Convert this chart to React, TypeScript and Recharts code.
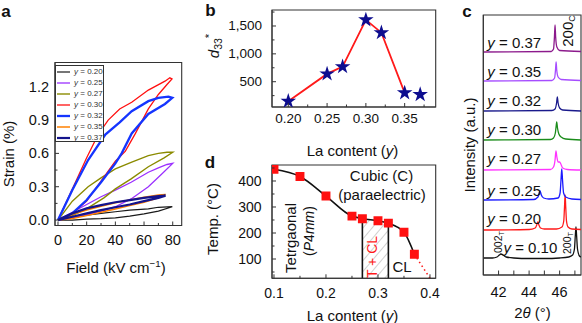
import React from 'react';
import {
  LineChart,
  Line,
  XAxis,
  YAxis,
  ComposedChart,
  Scatter,
  ReferenceArea,
  ReferenceLine,
  Area,
  ZAxis,
} from 'recharts';

const FONT = '"Liberation Sans", Arial, Helvetica, sans-serif';
const AX = '#333';

// ---------------- Panel a: strain loops ----------------
const fieldMajor = [0, 20, 40, 60, 80];
const fieldAll = [0, 10, 20, 30, 40, 50, 60, 70, 80];
const strainMajor = [0, 0.3, 0.6, 0.9, 1.2];
const strainAll = [0, 0.15, 0.3, 0.45, 0.6, 0.75, 0.9, 1.05, 1.2, 1.35];

const loopLabels = ['0.20', '0.25', '0.27', '0.30', '0.32', '0.35', '0.37'];
const loopColors = ['#1a1a1a', '#9b30ff', '#8b8b00', '#ff1010', '#1535ff', '#ff8000', '#14148c'];
const loopWidths = [1.2, 1.3, 1.4, 1.3, 2.3, 1.5, 2.2];

const loop020 = [[0, 0], [10, 0.0], [20, 0.008], [30, 0.012], [40, 0.02], [50, 0.035], [60, 0.055], [70, 0.08], [79.7, 0.12], [70, 0.115], [63, 0.1], [50, 0.09], [40, 0.075], [30, 0.06], [20, 0.045], [10, 0.025], [0, 0]];
const loop025 = [[0, 0], [10, 0.02], [20, 0.05], [30, 0.08], [40, 0.12], [51, 0.19], [63, 0.3], [72, 0.41], [80, 0.51], [76, 0.5], [70, 0.47], [63, 0.43], [51, 0.34], [40, 0.27], [30, 0.21], [20, 0.14], [10, 0.07], [0, 0]];
const loop027 = [[0, 0], [10, 0.04], [21, 0.11], [32, 0.2], [40, 0.28], [51, 0.37], [63, 0.48], [74, 0.56], [80, 0.61], [76, 0.61], [70, 0.6], [63, 0.58], [51, 0.52], [40, 0.46], [30, 0.38], [21, 0.3], [10, 0.17], [0, 0]];
const loop030 = [[0, 0], [10, 0.06], [20, 0.17], [30, 0.35], [40, 0.53], [47, 0.62], [54, 0.78], [63, 1.0], [70, 1.13], [76, 1.22], [79.5, 1.27], [78, 1.28], [74.6, 1.25], [63, 1.17], [51.4, 1.06], [43, 1.0], [35, 0.9], [28, 0.77], [20, 0.56], [10, 0.28], [0, 0]];
const loop032 = [[0, 0], [10, 0.06], [20, 0.18], [30, 0.34], [40, 0.51], [44.4, 0.6], [51.4, 0.78], [63, 0.955], [74.6, 1.045], [79.7, 1.1], [77, 1.11], [70, 1.1], [63, 1.07], [51.4, 0.98], [43, 0.88], [33, 0.77], [21, 0.54], [10, 0.27], [0, 0]];
const loop035 = [[0, 0], [10, 0.015], [20, 0.04], [30, 0.07], [40, 0.1], [50, 0.13], [60, 0.16], [70, 0.2], [75, 0.23], [70, 0.225], [60, 0.205], [50, 0.18], [40, 0.155], [30, 0.125], [20, 0.09], [10, 0.05], [0, 0]];
const loop037 = [[0, 0], [10, 0.03], [20, 0.06], [30, 0.09], [40, 0.115], [50, 0.14], [60, 0.17], [70, 0.2], [75, 0.22], [70, 0.215], [60, 0.2], [50, 0.18], [40, 0.16], [30, 0.135], [20, 0.105], [10, 0.06], [0, 0]];
const loops = [loop020, loop025, loop027, loop030, loop032, loop035, loop037];

// ---------------- Panel b: d33* ----------------
const laB = [0.2, 0.25, 0.27, 0.3, 0.32, 0.35, 0.37];
const d33 = [150, 640, 770, 1610, 1380, 300, 270];
const laBMajor = [0.2, 0.25, 0.3, 0.35];
const laBAll = [0.2, 0.225, 0.25, 0.275, 0.3, 0.325, 0.35, 0.375];
const d33Major = [500, 1000, 1500];
const d33All = [250, 500, 750, 1000, 1250, 1500, 1750];

// ---------------- Panel d: phase diagram ----------------
const laD = [0.1, 0.15, 0.2, 0.25, 0.27, 0.3, 0.32, 0.35, 0.37];
const tempD = [445, 417, 342, 265, 255, 247, 238, 203, 118];
const dottedLa = [0.37, 0.4];
const dottedT = [118, 26];
const mixLa = [0.27, 0.3, 0.32];
const mixT = [255, 247, 238];
const laDMajor = [0.1, 0.2, 0.3, 0.4];
const laDAll = [0.1, 0.15, 0.2, 0.25, 0.3, 0.35, 0.4];
const tMajor = [100, 200, 300, 400];
const tAll = [50, 100, 150, 200, 250, 300, 350, 400, 450];

// ---------------- Panel c: XRD ----------------
const xrdLabels = ['0.10', '0.20', '0.25', '0.27', '0.30', '0.32', '0.35', '0.37'];
const xrdColors = ['#111111', '#ff1a1a', '#1a1aff', '#ff33ff', '#1a8c1a', '#1a1a8c', '#a64dff', '#8c1a8c'];
const xrd010 = [[41, 17], [41.6, 17], [41.9, 18], [42.05, 20], [42.15, 21], [42.3, 20], [42.5, 18], [43, 17], [44, 16.5], [45, 16.5], [46, 17], [46.6, 18], [46.85, 20], [46.97, 26], [47.03, 40], [47.07, 48], [47.11, 40], [47.17, 26], [47.3, 19], [47.4, 18]];
const xrd020 = [[41, 45], [44, 45.5], [44.4, 47], [44.5, 50], [44.57, 53], [44.64, 50], [44.75, 47], [45, 46], [45.8, 46], [46.15, 48], [46.27, 54], [46.32, 68], [46.36, 80], [46.4, 68], [46.45, 54], [46.55, 48], [46.8, 46], [47.4, 45.5]];
const xrd025 = [[41, 75], [44.3, 75.5], [44.58, 78], [44.66, 82], [44.72, 84], [44.8, 80], [44.95, 77], [45.3, 76], [45.9, 77], [46.03, 82], [46.09, 95], [46.14, 106], [46.19, 95], [46.26, 82], [46.4, 78], [46.8, 76], [47.4, 75.5]];
const xrd027 = [[41, 105], [45.4, 105.5], [45.6, 108], [45.7, 115], [45.76, 124], [45.82, 118], [45.9, 113], [46.0, 113], [46.08, 111], [46.2, 107], [46.5, 105.5], [47.4, 105]];
const xrd030 = [[41, 135], [45.4, 135.5], [45.6, 137], [45.72, 142], [45.78, 150], [45.81, 153], [45.86, 147], [45.95, 141], [46.1, 138], [46.4, 136], [47.4, 135]];
const xrd032 = [[41, 164], [45.5, 164.5], [45.7, 166], [45.8, 172], [45.85, 178], [45.9, 172], [46.0, 167], [46.2, 165], [47.4, 164]];
const xrd035 = [[41, 194], [45.5, 194.5], [45.67, 197], [45.73, 205], [45.77, 213], [45.81, 205], [45.9, 198], [46.1, 195.5], [47.4, 194.5]];
const xrd037 = [[41, 223], [45.45, 223.5], [45.6, 226], [45.66, 238], [45.7, 250], [45.74, 238], [45.82, 228], [46.0, 224.5], [47.4, 223.5]];
const xrdTraces = [xrd010, xrd020, xrd025, xrd027, xrd030, xrd032, xrd035, xrd037];
const xrdLabelY = [246.7, 218.3, 190, 158.3, 129, 100, 71, 41.7];
const twoThetaMajor = [42, 44, 46];
const twoThetaAll = [42, 43, 44, 45, 46, 47];

const toXY = (pts: number[][]) => pts.map(([x, y]) => ({ x, y }));
const zipXY = (xs: number[], ys: number[]) => xs.map((x, i) => ({ x, y: ys[i] }));

function makeTick(
  major: number[],
  side: 'bottom' | 'left',
  fmt: (v: number) => string,
  gap: number,
  fontSize: number,
  majorLen = 4,
  minorLen = 2.5
) {
  return (props: any) => {
    const { x, y, payload } = props;
    const v = Number(payload.value);
    const isMajor = major.some((m) => Math.abs(m - v) < 1e-9);
    const len = isMajor ? majorLen : minorLen;
    if (side === 'bottom') {
      return (
        <g>
          <line x1={x} y1={y} x2={x} y2={y - len} stroke={AX} strokeWidth={1} />
          {isMajor && (
            <text x={x} y={y + gap} textAnchor="middle" dominantBaseline="central" fontSize={fontSize} fontFamily={FONT} fill="#111">
              {fmt(v)}
            </text>
          )}
        </g>
      );
    }
    return (
      <g>
        <line x1={x} y1={y} x2={x + len} y2={y} stroke={AX} strokeWidth={1} />
        {isMajor && (
          <text x={x - gap} y={y} textAnchor="end" dominantBaseline="central" fontSize={fontSize} fontFamily={FONT} fill="#111">
            {fmt(v)}
          </text>
        )}
      </g>
    );
  };
}

type TP = { x: number; y: number; size?: number; rot?: number; anchor?: 'start' | 'middle'; color?: string; bold?: boolean; children: React.ReactNode };
const Txt = ({ x, y, size = 15, rot = 0, anchor = 'middle', color = '#111', bold = false, children }: TP) => (
  <div
    style={{
      position: 'absolute',
      left: x,
      top: y,
      transform: `translate(${anchor === 'start' ? '0' : '-50%'}, -50%) rotate(${rot}deg)`,
      fontSize: size,
      color,
      fontWeight: bold ? 700 : 400,
      whiteSpace: 'nowrap',
      lineHeight: 1,
      fontFamily: FONT,
    }}
  >
    {children}
  </div>
);
const sub = (s: string, size = 0.7) => <sub style={{ fontSize: `${size}em`, lineHeight: 0, verticalAlign: '-0.3em' }}>{s}</sub>;
const sup = (s: string) => <sup style={{ fontSize: '0.65em', lineHeight: 0, verticalAlign: '0.55em' }}>{s}</sup>;

function Frame({ x1, x2, y1, y2 }: { x1: number; x2: number; y1: number; y2: number }) {
  return <ReferenceArea x1={x1} x2={x2} y1={y1} y2={y2} fill="none" stroke={AX} strokeWidth={1.1} ifOverflow="visible" />;
}

// Panel geometry
const A_X: [number, number] = [-2.09, 86.26];
const A_Y: [number, number] = [-0.049, 1.418];
const B_X: [number, number] = [0.179, 0.39];
const B_Y: [number, number] = [46, 1787];
const D_X: [number, number] = [0.0962, 0.411];
const D_Y: [number, number] = [25.8, 461.5];
const C_X: [number, number] = [41, 47.4];
const C_Y: [number, number] = [0, 260];

export default function App() {
  const d33Pts = zipXY(laB, d33);
  const d33LinePts = d33Pts.slice(0, 6);
  const tPts = zipXY(laD, tempD);
  return (
    <div style={{ position: 'absolute', left: 0, top: 0, width: 582, height: 323, overflow: 'hidden', background: '#fff', fontFamily: FONT }}>
      <svg width={0} height={0} style={{ position: 'absolute' }}>
        <defs>
          <pattern id="hatch" width="7" height="7" patternUnits="userSpaceOnUse" patternTransform="rotate(40)">
            <line x1="0" y1="0" x2="0" y2="7" stroke="#9a9a9a" strokeWidth="0.9" />
          </pattern>
        </defs>
      </svg>

      {/* Panel a */}
      <div style={{ position: 'absolute', left: 0, top: 0 }}>
        <LineChart width={200} height={323} margin={{ top: 62.5, left: 54, right: 18.3, bottom: 96.5 }}>
          <XAxis type="number" dataKey="x" domain={A_X} allowDataOverflow ticks={fieldAll} interval={0} tickLine={false} tickSize={0} tickMargin={0} height={1} axisLine={{ stroke: AX }} tick={makeTick(fieldMajor, 'bottom', (v) => String(v), 14.5, 14.5)} />
          <YAxis type="number" dataKey="y" domain={A_Y} allowDataOverflow ticks={strainAll} interval={0} tickLine={false} tickSize={0} tickMargin={0} width={1} axisLine={{ stroke: AX }} tick={makeTick(strainMajor, 'left', (v) => v.toFixed(1), 6, 14.5)} />
          <Frame x1={A_X[0]} x2={A_X[1]} y1={A_Y[0]} y2={A_Y[1]} />
          {loops.map((pts, i) => (
            <Line key={i} data={toXY(pts)} dataKey="y" type="linear" stroke={loopColors[i]} strokeWidth={loopWidths[i]} dot={false} isAnimationActive={false} />
          ))}
        </LineChart>
      </div>
      <div style={{ position: 'absolute', left: 55, top: 65, width: 49, height: 77, border: '1px solid #333', background: '#fff', boxSizing: 'border-box' }}>
        {loopLabels.map((lab, i) => (
          <div key={lab} style={{ position: 'absolute', left: 1, top: 5.7 + i * 11.1 - 5, height: 10, display: 'flex', alignItems: 'center', whiteSpace: 'nowrap' }}>
            <svg width={14} height={4} style={{ flex: 'none' }}>
              <line x1={0} y1={2} x2={13} y2={2} stroke={loopColors[i]} strokeWidth={loopWidths[i]} />
            </svg>
            <span style={{ fontSize: 8, marginLeft: 3, lineHeight: 1, color: '#333', whiteSpace: 'nowrap' }}>
              <i>y</i> = {lab}
            </span>
          </div>
        ))}
      </div>
      <Txt x={6} y={10.5} size={17} bold>a</Txt>
      <Txt x={8} y={154} rot={-90}>Strain (%)</Txt>
      <Txt x={116} y={267}>Field (kV cm{sup('−1')})</Txt>

      {/* Panel b */}
      <div style={{ position: 'absolute', left: 200, top: 0 }}>
        <ComposedChart width={245} height={160} margin={{ top: 10, left: 71, right: 9.3, bottom: 52 }}>
          <XAxis type="number" dataKey="x" domain={B_X} allowDataOverflow ticks={laBAll} interval={0} tickLine={false} tickSize={0} tickMargin={0} height={1} axisLine={{ stroke: AX }} tick={makeTick(laBMajor, 'bottom', (v) => v.toFixed(2), 11.5, 13.5)} />
          <YAxis type="number" dataKey="y" domain={B_Y} allowDataOverflow ticks={d33All} interval={0} tickLine={false} tickSize={0} tickMargin={0} width={1} axisLine={{ stroke: AX }} tick={makeTick(d33Major, 'left', (v) => v.toLocaleString('en-US'), 10, 13.5)} />
          <ZAxis range={[75, 75]} />
          <Frame x1={B_X[0]} x2={B_X[1]} y1={B_Y[0]} y2={B_Y[1]} />
          <Line data={d33LinePts} dataKey="y" type="linear" stroke="#ff1a1a" strokeWidth={1.8} dot={false} isAnimationActive={false} />
          <Scatter data={d33Pts} shape="star" fill="#0d0d8f" isAnimationActive={false} />
        </ComposedChart>
      </div>
      <Txt x={210.5} y={10} size={17} bold>b</Txt>
      <Txt x={213} y={46} rot={-90}>
        <i>d</i>
        <sub style={{ fontSize: '0.7em', lineHeight: 0, verticalAlign: '-0.35em' }}>33</sub>
        <sup style={{ fontSize: '0.75em', lineHeight: 0, verticalAlign: '0.5em' }}>*</sup>
      </Txt>
      <Txt x={352.5} y={150}>La content (<i>y</i>)</Txt>

      {/* Panel d */}
      <div style={{ position: 'absolute', left: 200, top: 160 }}>
        <ComposedChart width={245} height={163} margin={{ top: 5, left: 71, right: 9.3, bottom: 43.7 }}>
          <XAxis type="number" dataKey="x" domain={D_X} allowDataOverflow ticks={laDAll} interval={0} tickLine={false} tickSize={0} tickMargin={0} height={1} axisLine={{ stroke: AX }} tick={makeTick(laDMajor, 'bottom', (v) => v.toFixed(1), 14.2, 14)} />
          <YAxis type="number" dataKey="y" domain={D_Y} allowDataOverflow ticks={tAll} interval={0} tickLine={false} tickSize={0} tickMargin={0} width={1} axisLine={{ stroke: AX }} tick={makeTick(tMajor, 'left', (v) => String(v), 10.5, 14)} />
          <ZAxis range={[80, 80]} />
          <Area data={zipXY(mixLa, mixT)} dataKey="y" type="monotone" fill="url(#hatch)" fillOpacity={1} stroke="none" isAnimationActive={false} />
          <Frame x1={D_X[0]} x2={D_X[1]} y1={D_Y[0]} y2={D_Y[1]} />
          <ReferenceLine segment={[{ x: 0.27, y: D_Y[0] }, { x: 0.27, y: 255 }]} stroke="#111" strokeWidth={1.6} />
          <ReferenceLine segment={[{ x: 0.32, y: D_Y[0] }, { x: 0.32, y: 238 }]} stroke="#111" strokeWidth={1.6} />
          <Line data={tPts} dataKey="y" type="monotone" stroke="#111" strokeWidth={1.6} dot={false} isAnimationActive={false} />
          <Line data={zipXY(dottedLa, dottedT)} dataKey="y" type="linear" stroke="#ff1a1a" strokeWidth={1.6} strokeDasharray="1.5 3" dot={false} isAnimationActive={false} />
          <Scatter data={tPts} shape="square" fill="#ff1010" isAnimationActive={false} />
        </ComposedChart>
      </div>
      <Txt x={210} y={162} size={17} bold>d</Txt>
      <Txt x={211.7} y={219} rot={-90}>Temp. (°C)</Txt>
      <Txt x={352.5} y={315}>La content (<i>y</i>)</Txt>
      <Txt x={381.5} y={174.5}>Cubic (C)</Txt>
      <Txt x={382} y={193.5}>(paraelectric)</Txt>
      <Txt x={289.5} y={238} rot={-90}>Tetrgaonal</Txt>
      <Txt x={308.5} y={231} rot={-90} size={14}>(<i>P</i>4<i>mm</i>)</Txt>
      <Txt x={371.5} y={257} rot={-90} size={14} color="#ff1a1a">T + CL</Txt>
      <Txt x={402} y={265.5}>CL</Txt>

      {/* Panel c */}
      <div style={{ position: 'absolute', left: 445, top: 0 }}>
        <LineChart width={137} height={323} margin={{ top: 15, left: 37.3, right: 1, bottom: 47 }}>
          <XAxis type="number" dataKey="x" domain={C_X} allowDataOverflow ticks={twoThetaAll} interval={0} tickLine={false} tickSize={0} tickMargin={0} height={1} axisLine={{ stroke: AX }} tick={makeTick(twoThetaMajor, 'bottom', (v) => String(v), 16.7, 14.5, 4.5, 4.5)} />
          <YAxis type="number" dataKey="y" domain={C_Y} allowDataOverflow tick={false} tickLine={false} width={1} axisLine={{ stroke: AX }} />
          <Frame x1={C_X[0]} x2={C_X[1]} y1={C_Y[0]} y2={C_Y[1]} />
          {xrdTraces.map((pts, i) => (
            <Line key={i} data={toXY(pts)} dataKey="y" type="monotone" stroke={xrdColors[i]} strokeWidth={1.3} dot={false} isAnimationActive={false} />
          ))}
        </LineChart>
      </div>
      <Txt x={467} y={10.5} size={17} bold>c</Txt>
      <Txt x={469} y={145} rot={-90}>Intensity (a.u.)</Txt>
      <Txt x={532.5} y={311.7}>2<i>θ</i> (°)</Txt>
      {xrdLabels.map((lab, i) => (
        <Txt key={lab} x={i === 0 ? 503.5 : 487.3} y={xrdLabelY[i]} anchor="start">
          <i>y</i> = {lab}
        </Txt>
      ))}
      <Txt x={566.7} y={31} rot={-90}>200{sub('C', 0.6)}</Txt>
      <Txt x={497.5} y={242} rot={-90} size={10.5}>002{sub('T', 0.7)}</Txt>
      <Txt x={567.3} y={243} rot={-90} size={10.5}>200{sub('T', 0.7)}</Txt>
    </div>
  );
}
